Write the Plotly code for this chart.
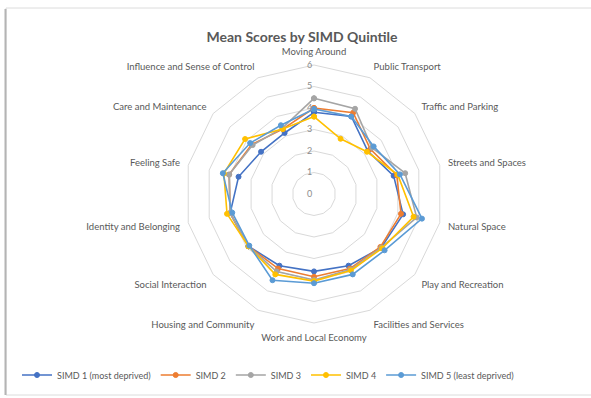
import plotly.graph_objects as go

categories = [
    "Moving Around", "Public Transport", "Traffic and Parking", "Streets and Spaces",
    "Natural Space", "Play and Recreation", "Facilities and Services",
    "Work and Local Economy", "Housing and Community", "Social Interaction",
    "Identity and Belonging", "Feeling Safe", "Care and Maintenance",
    "Influence and Sense of Control",
]

simd1 = [3.8, 4.0, 3.2, 3.8, 4.25, 4.0, 3.7, 3.6, 3.7, 3.9, 4.0, 3.6, 3.15, 3.15]
simd2 = [4.0, 4.2, 3.35, 3.95, 4.15, 3.95, 3.85, 3.85, 3.85, 3.9, 4.0, 4.05, 3.7, 3.35]
simd3 = [4.45, 4.4, 3.45, 4.35, 4.9, 4.0, 3.9, 4.0, 4.0, 3.9, 4.0, 4.05, 3.65, 3.4]
simd4 = [3.6, 2.85, 3.15, 4.0, 4.75, 4.05, 3.95, 4.05, 4.15, 3.9, 4.15, 4.3, 4.1, 3.35]
simd5 = [3.95, 4.0, 3.55, 4.1, 5.15, 4.2, 4.15, 4.15, 4.45, 3.85, 3.9, 4.35, 3.8, 3.55]

series_names = ["SIMD 1 (most deprived)", "SIMD 2", "SIMD 3", "SIMD 4", "SIMD 5 (least deprived)"]
series_values = [simd1, simd2, simd3, simd4, simd5]
colors = ["#4472C4", "#ED7D31", "#A5A5A5", "#FFC000", "#5B9BD5"]

radial_ticks = [0, 1, 2, 3, 4, 5, 6]

fig = go.Figure()
for name, vals, col in zip(series_names, series_values, colors):
    fig.add_trace(go.Scatterpolar(
        r=vals + vals[:1],
        theta=categories + categories[:1],
        name=name,
        mode="lines+markers",
        line=dict(color=col, width=1.6),
        marker=dict(symbol="circle", size=5, color=col, line=dict(color=col, width=1)),
    ))

grey_text = "#595959"
grid = "#D9D9D9"

fig.update_layout(
    width=591, height=398,
    margin=dict(l=0, r=0, t=0, b=0),
    paper_bgcolor="white",
    font=dict(family="Lato, Open Sans, sans-serif", color=grey_text, size=10),
    title=dict(text="<b>Mean Scores by SIMD Quintile</b>", x=302 / 591, xanchor="center",
               y=1 - 37 / 398, yanchor="middle", font=dict(size=14, color=grey_text)),
    polar=dict(
        domain=dict(x=[185 / 591, 443 / 591], y=[75 / 398, 333 / 398]),
        gridshape="linear",
        bgcolor="white",
        radialaxis=dict(
            range=[0, 6], tickvals=radial_ticks, ticktext=[str(t) for t in radial_ticks],
            angle=90, tickangle=90, side="counterclockwise",
            showline=False, ticks="", gridcolor=grid, gridwidth=1,
            tickfont=dict(size=9, color="#8C8C8C"),
        ),
        angularaxis=dict(
            direction="clockwise", rotation=90,
            showgrid=False, showline=True, linecolor=grid, linewidth=1,
            ticks="outside", ticklen=6, tickcolor="rgba(0,0,0,0)",
            tickfont=dict(size=9.5, color=grey_text),
        ),
    ),
    legend=dict(orientation="h", x=268 / 591, xanchor="center", y=1 - 375 / 398,
                yanchor="middle", font=dict(size=9, color=grey_text),
                itemwidth=30, tracegroupgap=0),
    shapes=[
        dict(type="rect", xref="paper", yref="paper", x0=6 / 591, x1=1.05,
             y0=3 / 398, y1=1 - 8 / 398, line=dict(color="#DCDCDC", width=1)),
        dict(type="line", xref="paper", yref="paper", x0=5.5 / 591, x1=5.5 / 591,
             y0=3 / 398, y1=1 - 9 / 398, line=dict(color="#B4B4B4", width=2)),
    ],
)

fig.write_html("out.html")
